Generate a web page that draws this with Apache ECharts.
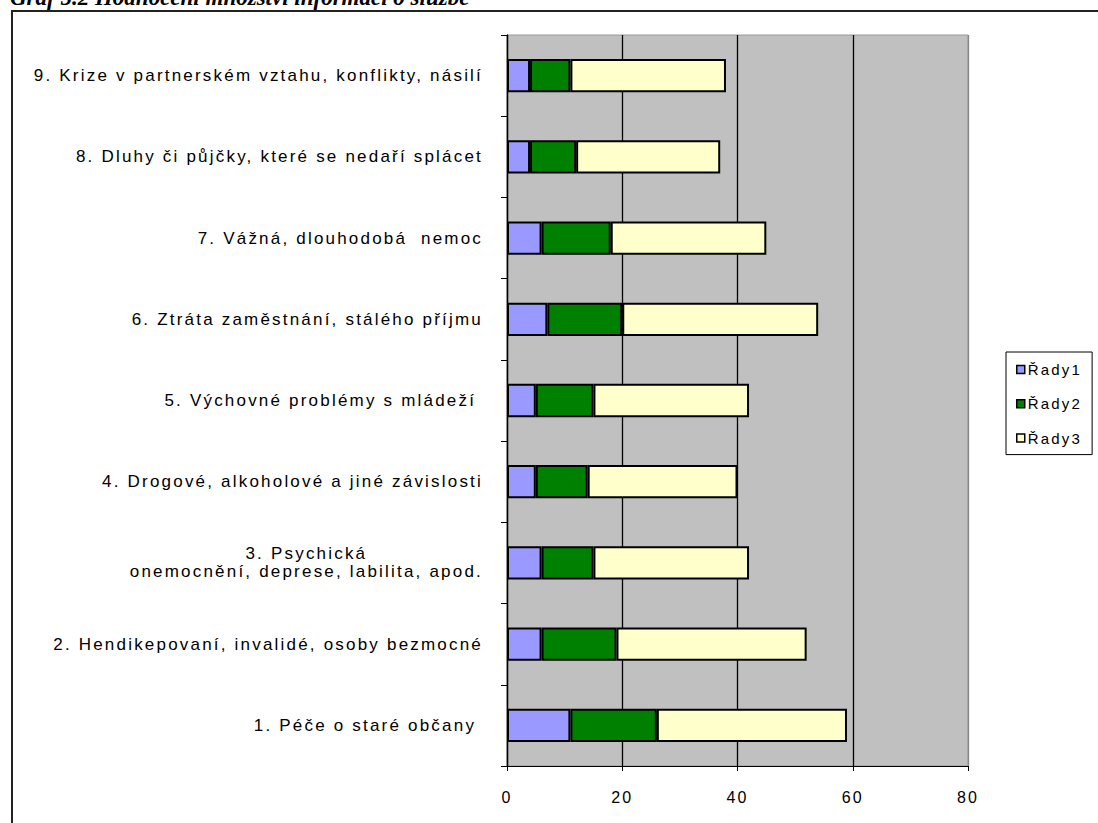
<!DOCTYPE html>
<html>
<head>
<meta charset="utf-8">
<script src="https://cdn.jsdelivr.net/npm/echarts@6/dist/echarts.min.js"></script>
<style>
  html, body { margin: 0; padding: 0; background: #fff; }
  #chart { width: 1098px; height: 823px; }
  /* widely spaced sans-serif lettering; the serif title keeps normal spacing */
  #chart text { letter-spacing: 2.2px; }
  #chart text[style*="italic"], #chart text[font-style="italic"] { letter-spacing: 0; }
</style>
</head>
<body>
<div id="chart"></div>
<script>
// Problem areas, listed bottom to top
const categories = [
  '1. Péče o staré občany ',
  '2. Hendikepovaní, invalidé, osoby bezmocné',
  '3. Psychická\nonemocnění, deprese, labilita, apod.',
  '4. Drogové, alkoholové a jiné závislosti',
  '5. Výchovné problémy s mládeží ',
  '6. Ztráta zaměstnání, stálého příjmu',
  '7. Vážná, dlouhodobá  nemoc',
  '8. Dluhy či půjčky, které se nedaří splácet',
  '9. Krize v partnerském vztahu, konflikty, násilí'
];
const seriesNames = ['Řady1', 'Řady2', 'Řady3'];
const rady1 = [11, 6, 6, 5, 5, 7, 6, 4, 4];
const rady2 = [15, 13, 9, 9, 10, 13, 12, 8, 7];
const rady3 = [33, 33, 27, 26, 27, 34, 27, 25, 27];
const xTickValues = [0, 20, 40, 60, 80];
const titleText = 'Graf 5.2 Hodnocení množství informací o službě';

const SANS = '"Liberation Sans", Arial, sans-serif';
const SERIF = '"Liberation Serif", "Times New Roman", serif';
const SPACING = 2.2;

// text widths include the extra letter spacing applied by the stylesheet
const measureCtx = document.createElement('canvas').getContext('2d');
echarts.setPlatformAPI({
  measureText: function (text, font) {
    measureCtx.font = font || '12px sans-serif';
    let w = measureCtx.measureText(text).width;
    if (!/italic/.test(font || '')) w += text.length * SPACING;
    return { width: w };
  }
});

const chart = echarts.init(document.getElementById('chart'), null, { renderer: 'svg' });

const colors = ['#9999FF', '#008000', '#FFFFCC'];
const values = [rady1, rady2, rady3];

const option = {
  animation: false,
  backgroundColor: '#fff',
  title: {
    text: titleText,
    left: 10,
    top: -14,
    padding: 0,
    textStyle: {
      fontFamily: SERIF,
      fontStyle: 'italic',
      fontWeight: 'bold',
      fontSize: 23,
      color: '#000'
    }
  },
  graphic: [{
    type: 'rect',
    shape: { x: 12, y: 11, width: 1200, height: 1000 },
    style: { fill: 'none', stroke: '#222', lineWidth: 2 },
    silent: true,
    z: -1
  }],
  legend: {
    orient: 'vertical',
    left: 1006,
    top: 352,
    data: seriesNames,
    icon: 'rect',
    itemWidth: 8,
    itemHeight: 8,
    itemGap: 17,
    padding: [9, 10, 8, 10],
    borderColor: '#000',
    borderWidth: 1,
    backgroundColor: '#fff',
    itemStyle: { borderColor: '#000', borderWidth: 1.5 },
    textStyle: { fontFamily: SANS, fontSize: 15, color: '#000', padding: [0, 0, 0, -2] }
  },
  grid: {
    left: 507,
    right: 130,
    top: 35,
    bottom: 57,
    show: true,
    backgroundColor: '#C0C0C0',
    borderColor: '#999',
    borderWidth: 1,
    containLabel: false,
    outerBoundsMode: 'none'
  },
  xAxis: {
    type: 'value',
    min: xTickValues[0],
    max: xTickValues[xTickValues.length - 1],
    interval: xTickValues[1] - xTickValues[0],
    axisLine: { show: true, lineStyle: { color: '#000', width: 1 } },
    axisTick: { show: true, length: 5, lineStyle: { color: '#000' } },
    splitLine: { show: true, lineStyle: { color: ['#000', '#000', '#000', '#000', '#888'], width: 1.3 } },
    axisLabel: { color: '#000', fontFamily: SANS, fontSize: 16, margin: 22 }
  },
  yAxis: {
    type: 'category',
    data: categories,
    axisLine: { show: true, lineStyle: { color: '#000', width: 1.3 } },
    axisTick: { show: true, length: 6, lineStyle: { color: '#000' } },
    splitLine: { show: false },
    axisLabel: {
      interval: 0,
      color: '#000',
      fontFamily: SANS,
      fontSize: 17,
      margin: 24,
      lineHeight: 18,
      formatter: function (v) {
        return v.split('\n').map(function (s) { return '{c|' + s + '}'; }).join('\n');
      },
      rich: {
        c: { align: 'center', fontFamily: SANS, fontSize: 17, lineHeight: 18, color: '#000' }
      }
    }
  },
  series: seriesNames.map(function (name, i) {
    return {
      name: name,
      type: 'bar',
      stack: 'total',
      barCategoryGap: '59%',
      data: values[i],
      itemStyle: { color: colors[i], borderColor: '#000', borderWidth: 2 },
      emphasis: { disabled: true }
    };
  })
};

chart.setOption(option);
</script>
</body>
</html>
